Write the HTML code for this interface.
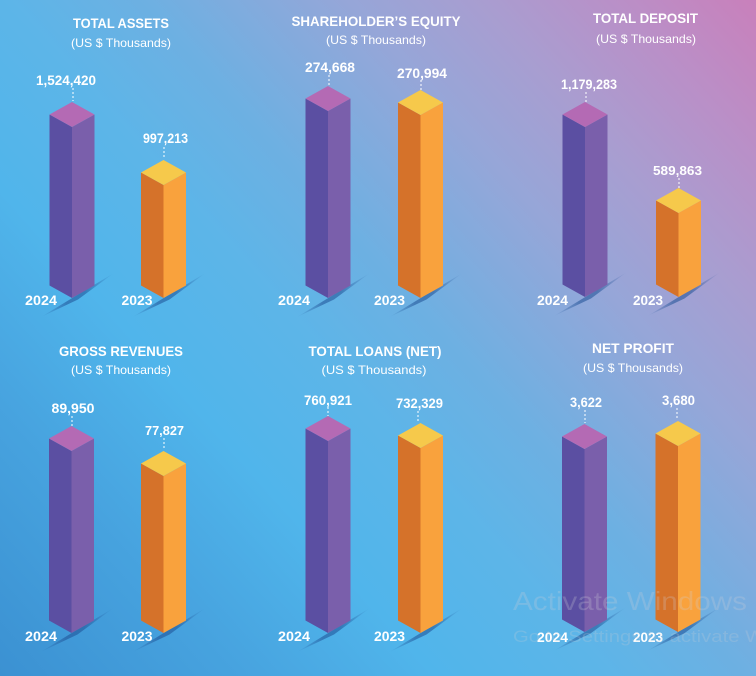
<!DOCTYPE html>
<html>
<head>
<meta charset="utf-8">
<style>
html,body{margin:0;padding:0;width:756px;height:676px;overflow:hidden;}
svg{display:block;}
text{font-family:"Liberation Sans",sans-serif;fill:#fff;}
.t{font-weight:700;font-size:14px;}
.s{font-size:12px;}
.v{font-weight:700;font-size:13.5px;}
.y{font-weight:700;font-size:14px;}
.pl{fill:#5b4fa2;} .pr{fill:#7a5fab;} .pt{fill:#b46ab4;}
.ol{fill:#d5722a;} .or{fill:#f9a23d;} .ot{fill:#f6c94b;}
.d{stroke:#fff;stroke-width:1;stroke-dasharray:2,2;}
</style>
</head>
<body>
<svg width="756" height="676" viewBox="0 0 756 676" xmlns="http://www.w3.org/2000/svg">
<defs>
<linearGradient id="bg" gradientUnits="userSpaceOnUse" x1="0" y1="676" x2="756" y2="0">
<stop offset="0" stop-color="#3b91d2"/>
<stop offset="0.18" stop-color="#47a3df"/>
<stop offset="0.32" stop-color="#50b5eb"/>
<stop offset="0.45" stop-color="#5db5e8"/>
<stop offset="0.55" stop-color="#6db0e2"/>
<stop offset="0.7" stop-color="#96a6d8"/>
<stop offset="0.8" stop-color="#a99dd0"/>
<stop offset="0.9" stop-color="#ba8fc7"/>
<stop offset="1" stop-color="#c980bb"/>
</linearGradient>
<linearGradient id="shg" x1="0" y1="0" x2="1" y2="0">
<stop offset="0" stop-color="#1d4f94" stop-opacity="0"/>
<stop offset="0.35" stop-color="#1d4f94" stop-opacity="0.55"/>
<stop offset="0.6" stop-color="#1d4f94" stop-opacity="0.55"/>
<stop offset="1" stop-color="#1d4f94" stop-opacity="0"/>
</linearGradient>
<polygon id="sh" points="-31,19 6,-3.5 42,-25 6,1.5" fill="url(#shg)"/>
</defs>
<rect width="756" height="676" fill="url(#bg)"/>

<!-- shadows -->
<use href="#sh" transform="translate(72,298)"/>
<use href="#sh" transform="translate(163.5,298)"/>
<use href="#sh" transform="translate(328,298)"/>
<use href="#sh" transform="translate(420.5,298)"/>
<use href="#sh" transform="translate(585,297)"/>
<use href="#sh" transform="translate(678.5,297)"/>
<use href="#sh" transform="translate(71.5,633)"/>
<use href="#sh" transform="translate(163.5,633)"/>
<use href="#sh" transform="translate(328,633)"/>
<use href="#sh" transform="translate(420.5,633)"/>
<use href="#sh" transform="translate(584.5,632)"/>
<use href="#sh" transform="translate(678,632)"/>

<!-- TOTAL ASSETS -->
<text class="t" x="121" y="28" text-anchor="middle" textLength="96" lengthAdjust="spacingAndGlyphs">TOTAL ASSETS</text>
<text class="s" x="121" y="47" text-anchor="middle" textLength="100" lengthAdjust="spacingAndGlyphs">(US $ Thousands)</text>
<polygon class="pl" points="49.5,114.5 72,127 72,298 49.5,285.5"/>
<polygon class="pr" points="72,127 94.5,114.5 94.5,285.5 72,298"/>
<polygon class="pt" points="72,102 94.5,114.5 72,127 49.5,114.5"/>
<polygon class="ol" points="141,172.5 163.5,185 163.5,298 141,285.5"/>
<polygon class="or" points="163.5,185 186,172.5 186,285.5 163.5,298"/>
<polygon class="ot" points="163.5,160 186,172.5 163.5,185 141,172.5"/>
<text class="v" x="66" y="85" text-anchor="middle" textLength="60" lengthAdjust="spacingAndGlyphs">1,524,420</text>
<line class="d" x1="73" y1="88" x2="73" y2="101"/>
<text class="v" x="165.5" y="143" text-anchor="middle" textLength="45" lengthAdjust="spacingAndGlyphs">997,213</text>
<line class="d" x1="164" y1="147" x2="164" y2="159"/>
<text class="y" x="41" y="305" text-anchor="middle" textLength="32" lengthAdjust="spacingAndGlyphs">2024</text>
<text class="y" x="137" y="305" text-anchor="middle" textLength="31" lengthAdjust="spacingAndGlyphs">2023</text>

<!-- SHAREHOLDER'S EQUITY -->
<text class="t" x="376" y="26" text-anchor="middle" textLength="169" lengthAdjust="spacingAndGlyphs">SHAREHOLDER’S EQUITY</text>
<text class="s" x="376" y="44" text-anchor="middle" textLength="100" lengthAdjust="spacingAndGlyphs">(US $ Thousands)</text>
<polygon class="pl" points="305.5,98.5 328,111 328,298 305.5,285.5"/>
<polygon class="pr" points="328,111 350.5,98.5 350.5,285.5 328,298"/>
<polygon class="pt" points="328,86 350.5,98.5 328,111 305.5,98.5"/>
<polygon class="ol" points="398,102.5 420.5,115 420.5,298 398,285.5"/>
<polygon class="or" points="420.5,115 443,102.5 443,285.5 420.5,298"/>
<polygon class="ot" points="420.5,90 443,102.5 420.5,115 398,102.5"/>
<text class="v" x="330" y="72" text-anchor="middle" textLength="50" lengthAdjust="spacingAndGlyphs">274,668</text>
<line class="d" x1="329" y1="75" x2="329" y2="86"/>
<text class="v" x="422" y="78" text-anchor="middle" textLength="50" lengthAdjust="spacingAndGlyphs">270,994</text>
<line class="d" x1="421" y1="80" x2="421" y2="90"/>
<text class="y" x="294" y="305" text-anchor="middle" textLength="32" lengthAdjust="spacingAndGlyphs">2024</text>
<text class="y" x="389.5" y="305" text-anchor="middle" textLength="31" lengthAdjust="spacingAndGlyphs">2023</text>

<!-- TOTAL DEPOSIT -->
<text class="t" x="645.5" y="23" text-anchor="middle" textLength="105" lengthAdjust="spacingAndGlyphs">TOTAL DEPOSIT</text>
<text class="s" x="646" y="43" text-anchor="middle" textLength="100" lengthAdjust="spacingAndGlyphs">(US $ Thousands)</text>
<polygon class="pl" points="562.5,114.5 585,127 585,297 562.5,284.5"/>
<polygon class="pr" points="585,127 607.5,114.5 607.5,284.5 585,297"/>
<polygon class="pt" points="585,102 607.5,114.5 585,127 562.5,114.5"/>
<polygon class="ol" points="656,200.5 678.5,213 678.5,297 656,284.5"/>
<polygon class="or" points="678.5,213 701,200.5 701,284.5 678.5,297"/>
<polygon class="ot" points="678.5,188 701,200.5 678.5,213 656,200.5"/>
<text class="v" x="589" y="89" text-anchor="middle" textLength="56" lengthAdjust="spacingAndGlyphs">1,179,283</text>
<line class="d" x1="586" y1="92" x2="586" y2="102"/>
<text class="v" x="677.5" y="175" text-anchor="middle" textLength="49" lengthAdjust="spacingAndGlyphs" style="font-size:12.5px">589,863</text>
<line class="d" x1="679" y1="178" x2="679" y2="188"/>
<text class="y" x="552.5" y="305" text-anchor="middle" textLength="31" lengthAdjust="spacingAndGlyphs">2024</text>
<text class="y" x="648" y="305" text-anchor="middle" textLength="30" lengthAdjust="spacingAndGlyphs">2023</text>

<!-- GROSS REVENUES -->
<text class="t" x="121" y="356" text-anchor="middle" textLength="124" lengthAdjust="spacingAndGlyphs">GROSS REVENUES</text>
<text class="s" x="121" y="374" text-anchor="middle" textLength="100" lengthAdjust="spacingAndGlyphs">(US $ Thousands)</text>
<polygon class="pl" points="49,438.5 71.5,451 71.5,633 49,620.5"/>
<polygon class="pr" points="71.5,451 94,438.5 94,620.5 71.5,633"/>
<polygon class="pt" points="71.5,426 94,438.5 71.5,451 49,438.5"/>
<polygon class="ol" points="141,463.5 163.5,476 163.5,633 141,620.5"/>
<polygon class="or" points="163.5,476 186,463.5 186,620.5 163.5,633"/>
<polygon class="ot" points="163.5,451 186,463.5 163.5,476 141,463.5"/>
<text class="v" x="73" y="413" text-anchor="middle" textLength="43" lengthAdjust="spacingAndGlyphs">89,950</text>
<line class="d" x1="72" y1="416" x2="72" y2="426"/>
<text class="v" x="164.5" y="435" text-anchor="middle" textLength="39" lengthAdjust="spacingAndGlyphs" style="font-size:12.5px">77,827</text>
<line class="d" x1="164" y1="438" x2="164" y2="450"/>
<text class="y" x="41" y="641" text-anchor="middle" textLength="32" lengthAdjust="spacingAndGlyphs">2024</text>
<text class="y" x="137" y="641" text-anchor="middle" textLength="31" lengthAdjust="spacingAndGlyphs">2023</text>

<!-- TOTAL LOANS (NET) -->
<text class="t" x="375" y="356" text-anchor="middle" textLength="133" lengthAdjust="spacingAndGlyphs">TOTAL LOANS (NET)</text>
<text class="s" x="374" y="374" text-anchor="middle" textLength="105" lengthAdjust="spacingAndGlyphs">(US $ Thousands)</text>
<polygon class="pl" points="305.5,428.5 328,441 328,633 305.5,620.5"/>
<polygon class="pr" points="328,441 350.5,428.5 350.5,620.5 328,633"/>
<polygon class="pt" points="328,416 350.5,428.5 328,441 305.5,428.5"/>
<polygon class="ol" points="398,435.5 420.5,448 420.5,633 398,620.5"/>
<polygon class="or" points="420.5,448 443,435.5 443,620.5 420.5,633"/>
<polygon class="ot" points="420.5,423 443,435.5 420.5,448 398,435.5"/>
<text class="v" x="328" y="405" text-anchor="middle" textLength="48" lengthAdjust="spacingAndGlyphs">760,921</text>
<line class="d" x1="328" y1="407" x2="328" y2="416"/>
<text class="v" x="419.5" y="408" text-anchor="middle" textLength="47" lengthAdjust="spacingAndGlyphs">732,329</text>
<line class="d" x1="418" y1="411" x2="418" y2="422"/>
<text class="y" x="294" y="641" text-anchor="middle" textLength="32" lengthAdjust="spacingAndGlyphs">2024</text>
<text class="y" x="389.5" y="641" text-anchor="middle" textLength="31" lengthAdjust="spacingAndGlyphs">2023</text>

<!-- NET PROFIT -->
<text class="t" x="633" y="353" text-anchor="middle" textLength="82" lengthAdjust="spacingAndGlyphs">NET PROFIT</text>
<text class="s" x="633" y="372" text-anchor="middle" textLength="100" lengthAdjust="spacingAndGlyphs">(US $ Thousands)</text>
<polygon class="pl" points="562,436.5 584.5,449 584.5,632 562,619.5"/>
<polygon class="pr" points="584.5,449 607,436.5 607,619.5 584.5,632"/>
<polygon class="pt" points="584.5,424 607,436.5 584.5,449 562,436.5"/>
<polygon class="ol" points="655.5,433.5 678,446 678,632 655.5,619.5"/>
<polygon class="or" points="678,446 700.5,433.5 700.5,619.5 678,632"/>
<polygon class="ot" points="678,421 700.5,433.5 678,446 655.5,433.5"/>
<text class="v" x="586" y="407" text-anchor="middle" textLength="32" lengthAdjust="spacingAndGlyphs">3,622</text>
<line class="d" x1="585" y1="410" x2="585" y2="423"/>
<text class="v" x="678.5" y="405" text-anchor="middle" textLength="33" lengthAdjust="spacingAndGlyphs">3,680</text>
<line class="d" x1="677" y1="408" x2="677" y2="420"/>
<text class="y" x="552.5" y="642" text-anchor="middle" textLength="31" lengthAdjust="spacingAndGlyphs">2024</text>
<text class="y" x="648" y="642" text-anchor="middle" textLength="30" lengthAdjust="spacingAndGlyphs">2023</text>

<!-- watermark -->
<text x="513" y="610" style="font-size:26px;fill:#d0d0d8;fill-opacity:0.25" textLength="234" lengthAdjust="spacingAndGlyphs">Activate Windows</text>
<text x="513" y="642" style="font-size:17px;fill:#d0d0d8;fill-opacity:0.22" textLength="320" lengthAdjust="spacingAndGlyphs">Go to Settings to activate Windows.</text>
</svg>
</body>
</html>
